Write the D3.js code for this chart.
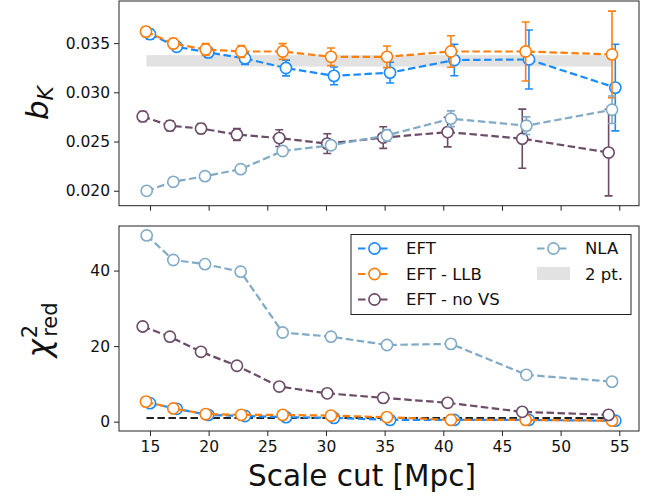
<!DOCTYPE html>
<html>
<head>
<meta charset="utf-8">
<script src="https://cdn.jsdelivr.net/npm/d3@7"></script>
<style>
  html, body { margin: 0; padding: 0; background: #fff; }
  svg { display: block; font-family: "DejaVu Sans", sans-serif; }
</style>
</head>
<body>
<svg id="chart" width="657" height="499"></svg>
<script>
// Scale cuts (Mpc) at which each model was fitted
const xEFT  = [15.0, 17.28, 19.97, 23.1, 26.59, 30.68, 35.46, 40.94, 47.3, 54.66];
const xLLB  = [14.66, 16.99, 19.75, 22.78, 26.31, 30.43, 35.2, 40.65, 47.02, 54.38];
const xNoVS = [14.38, 16.7, 19.35, 22.41, 26.02, 30.11, 34.88, 40.37, 46.73, 54.09];
const xNLA  = [14.72, 16.99, 19.69, 22.73, 26.31, 30.43, 35.2, 40.65, 47.08, 54.38];

// Linear alignment amplitude b_K and 1-sigma errors
const bEFT     = [0.03591, 0.03463, 0.03405, 0.03344, 0.03247, 0.03167, 0.03200, 0.03328, 0.03334, 0.03048];
const bEFTerr  = [0.0005, 0.0004, 0.0005, 0.0006, 0.0008, 0.0009, 0.00105, 0.0016, 0.003, 0.0044];
const bLLB     = [0.03617, 0.03496, 0.03435, 0.03415, 0.03415, 0.03361, 0.03361, 0.03415, 0.03415, 0.03385];
const bLLBerr  = [0.0005, 0.0005, 0.0006, 0.0006, 0.0008, 0.0009, 0.0011, 0.0016, 0.003, 0.0044];
const bNoVS    = [0.02755, 0.02661, 0.02632, 0.02571, 0.02535, 0.02479, 0.02540, 0.02596, 0.02529, 0.02388];
const bNoVSerr = [0.0005, 0.0005, 0.0005, 0.0006, 0.00085, 0.001, 0.0011, 0.0015, 0.003, 0.0044];
const bNLA     = [0.01999, 0.02091, 0.02148, 0.02219, 0.02404, 0.02462, 0.02563, 0.02732, 0.02661, 0.02823];
const bNLAerr  = [0.0001, 0.0001, 0.00015, 0.0002, 0.0003, 0.0004, 0.0006, 0.0008, 0.0009, 0.0014];

// Two-point-only constraint (mean and half-width) over the scale-cut range
const twoPt = [0.0332, 0.00058];
const twoPtRange = [14.7, 54.4];

// Reduced chi-squared of each fit
const chiEFT  = [4.9, 3.4, 1.8, 1.5, 1.2, 1.0, 0.45, 0.45, 0.45, 0.26];
const chiLLB  = [5.3, 3.5, 2.0, 1.8, 1.8, 1.6, 1.2, 0.45, 0.45, 0.26];
const chiNoVS = [25.2, 22.5, 18.5, 14.8, 9.3, 7.5, 6.3, 5.0, 2.6, 1.8];
const chiNLA  = [49.3, 42.8, 41.7, 39.7, 23.6, 22.5, 20.3, 20.6, 12.4, 10.6];
const chiRef = 1;
const chiRefRange = [14.7, 54.0];

// Tick values
const xTicks = [15, 20, 25, 30, 35, 40, 45, 50, 55];
const bTicks = [0.020, 0.025, 0.030, 0.035];
const chiTicks = [0, 20, 40];

const names = ["EFT", "EFT - LLB", "EFT - no VS", "NLA"];
const colors = ["#1a8cff", "#ff7f0e", "#6b4b67", "#80aac6"];

const series = [
  { name: names[0], color: colors[0], x: xEFT,  b: bEFT,  e: bEFTerr,  chi: chiEFT },
  { name: names[1], color: colors[1], x: xLLB,  b: bLLB,  e: bLLBerr,  chi: chiLLB },
  { name: names[2], color: colors[2], x: xNoVS, b: bNoVS, e: bNoVSerr, chi: chiNoVS },
  { name: names[3], color: colors[3], x: xNLA,  b: bNLA,  e: bNLAerr,  chi: chiNLA }
];

const svg = d3.select("#chart");
const L = 119, R = 639;
const top1 = [1, 205.7], top2 = [226, 431];

const x = d3.scaleLinear().domain([12.36, 56.68]).range([L, R]);
const yB = d3.scaleLinear().domain([0.01848, 0.03928]).range([top1[1], top1[0]]);
const yC = d3.scaleLinear().domain([-2.47, 51.8]).range([top2[1], top2[0]]);

const DASH = "7.5,3.5";
const tickFont = 15.5;

function panel(g, yScale, yTickVals, fmt, showX, range) {
  const clipId = "clip" + range[0];
  svg.append("clipPath").attr("id", clipId)
    .append("rect").attr("x", L).attr("y", range[0]).attr("width", R - L).attr("height", range[1] - range[0]);
  const yAxis = d3.axisLeft(yScale).tickValues(yTickVals).tickFormat(fmt).tickSize(5).tickPadding(4);
  const ga = g.append("g").attr("transform", `translate(${L},0)`).call(yAxis);
  const xAxis = d3.axisBottom(x).tickValues(xTicks).tickSize(5).tickPadding(5)
    .tickFormat(showX ? d3.format("d") : () => "");
  const gx = g.append("g").attr("transform", `translate(0,${range[1]})`).call(xAxis);
  [ga, gx].forEach(a => {
    a.select(".domain").remove();
    a.selectAll("line").attr("stroke", "#222").attr("stroke-width", 1);
    a.selectAll("text").attr("fill", "#111").style("font-size", tickFont + "px")
      .style("font-family", "DejaVu Sans");
  });
  const plot = g.append("g").attr("clip-path", `url(#${clipId})`);
  return plot;
}

// ---- top panel: b_K ----
const gTop = svg.append("g");
const pTop = panel(gTop, yB, bTicks, d3.format(".3f"), false, top1);

pTop.append("rect")
  .attr("x", x(twoPtRange[0])).attr("width", x(twoPtRange[1]) - x(twoPtRange[0]))
  .attr("y", yB(twoPt[0] + twoPt[1])).attr("height", yB(twoPt[0] - twoPt[1]) - yB(twoPt[0] + twoPt[1]))
  .attr("fill", "#e2e2e2");

series.forEach(s => {
  const pts = s.x.map((xv, i) => ({ x: xv, y: s.b[i], e: s.e[i] }));
  const g = pTop.append("g");
  g.append("path").datum(pts)
    .attr("d", d3.line().x(d => x(d.x)).y(d => yB(d.y)))
    .attr("fill", "none").attr("stroke", s.color).attr("stroke-width", 2.2).attr("stroke-dasharray", DASH);
  const eb = g.selectAll("g.eb").data(pts).join("g");
  eb.append("line").attr("x1", d => x(d.x)).attr("x2", d => x(d.x))
    .attr("y1", d => yB(d.y - d.e)).attr("y2", d => yB(d.y + d.e))
    .attr("stroke", s.color).attr("stroke-width", 1.6);
  [-1, 1].forEach(sg => {
    eb.append("line").attr("x1", d => x(d.x) - 4).attr("x2", d => x(d.x) + 4)
      .attr("y1", d => yB(d.y + sg * d.e)).attr("y2", d => yB(d.y + sg * d.e))
      .attr("stroke", s.color).attr("stroke-width", 1.6);
  });
  g.selectAll("circle").data(pts).join("circle")
    .attr("cx", d => x(d.x)).attr("cy", d => yB(d.y)).attr("r", 5.6)
    .attr("fill", "#fff").attr("stroke", s.color).attr("stroke-width", 1.6);
});

gTop.append("rect").attr("x", L).attr("y", top1[0]).attr("width", R - L).attr("height", top1[1] - top1[0])
  .attr("fill", "none").attr("stroke", "#222").attr("stroke-width", 1);

// ---- bottom panel: reduced chi-squared ----
const gBot = svg.append("g");
const pBot = panel(gBot, yC, chiTicks, d3.format("d"), true, top2);

pBot.append("line")
  .attr("x1", x(chiRefRange[0])).attr("x2", x(chiRefRange[1]))
  .attr("y1", yC(chiRef)).attr("y2", yC(chiRef))
  .attr("stroke", "#222").attr("stroke-width", 2).attr("stroke-dasharray", DASH);

series.forEach(s => {
  const pts = s.x.map((xv, i) => ({ x: xv, y: s.chi[i] }));
  const g = pBot.append("g");
  g.append("path").datum(pts)
    .attr("d", d3.line().x(d => x(d.x)).y(d => yC(d.y)))
    .attr("fill", "none").attr("stroke", s.color).attr("stroke-width", 2.2).attr("stroke-dasharray", DASH);
  g.selectAll("circle").data(pts).join("circle")
    .attr("cx", d => x(d.x)).attr("cy", d => yC(d.y)).attr("r", 5.6)
    .attr("fill", "#fff").attr("stroke", s.color).attr("stroke-width", 1.6);
});

gBot.append("rect").attr("x", L).attr("y", top2[0]).attr("width", R - L).attr("height", top2[1] - top2[0])
  .attr("fill", "none").attr("stroke", "#222").attr("stroke-width", 1);

// ---- legend ----
const leg = svg.append("g");
leg.append("rect").attr("x", 351).attr("y", 234.5).attr("width", 280).attr("height", 80)
  .attr("fill", "#fff").attr("stroke", "#222").attr("stroke-width", 1);
const legItems = [
  { s: series[0], col: 0, row: 0 },
  { s: series[1], col: 0, row: 1 },
  { s: series[2], col: 0, row: 2 },
  { s: series[3], col: 1, row: 0 }
];
const colX = [358, 537], textX = [406, 585], rowY = [248.5, 274, 299.5];
legItems.forEach(it => {
  const x0 = colX[it.col], yy = rowY[it.row];
  leg.append("line").attr("x1", x0).attr("x2", x0 + 33).attr("y1", yy).attr("y2", yy)
    .attr("stroke", it.s.color).attr("stroke-width", 2.2).attr("stroke-dasharray", DASH);
  leg.append("circle").attr("cx", x0 + 16.5).attr("cy", yy).attr("r", 5.6)
    .attr("fill", "#fff").attr("stroke", it.s.color).attr("stroke-width", 1.6);
  leg.append("text").attr("x", textX[it.col]).attr("y", yy).attr("dy", "0.36em")
    .style("font-size", "16.5px").attr("fill", "#111").text(it.s.name);
});
leg.append("rect").attr("x", colX[1]).attr("y", 267).attr("width", 33).attr("height", 13).attr("fill", "#e2e2e2");
leg.append("text").attr("x", textX[1]).attr("y", rowY[1]).attr("dy", "0.36em")
  .style("font-size", "16.5px").attr("fill", "#111").text("2 pt.");

// ---- axis titles ----
const yl1 = svg.append("text").attr("transform", "translate(48,103) rotate(-90)")
  .attr("text-anchor", "middle").attr("fill", "#111");
yl1.append("tspan").style("font-size", "31px").style("font-style", "italic").text("b");
yl1.append("tspan").style("font-size", "22px").style("font-style", "italic").attr("dy", 5).text("K");

const yl2 = svg.append("text").attr("transform", "translate(50,330) rotate(-90)")
  .attr("text-anchor", "middle").attr("fill", "#111");
yl2.append("tspan").style("font-size", "31px").style("font-style", "italic").text("χ");
yl2.append("tspan").style("font-size", "21px").attr("dy", -13).attr("dx", 1).text("2");
yl2.append("tspan").style("font-size", "21px").attr("dy", 20).attr("dx", -12).text("red");

svg.append("text").attr("x", 362).attr("y", 486).attr("text-anchor", "middle")
  .style("font-size", "29.5px").attr("fill", "#111").text("Scale cut [Mpc]");
</script>
</body>
</html>
